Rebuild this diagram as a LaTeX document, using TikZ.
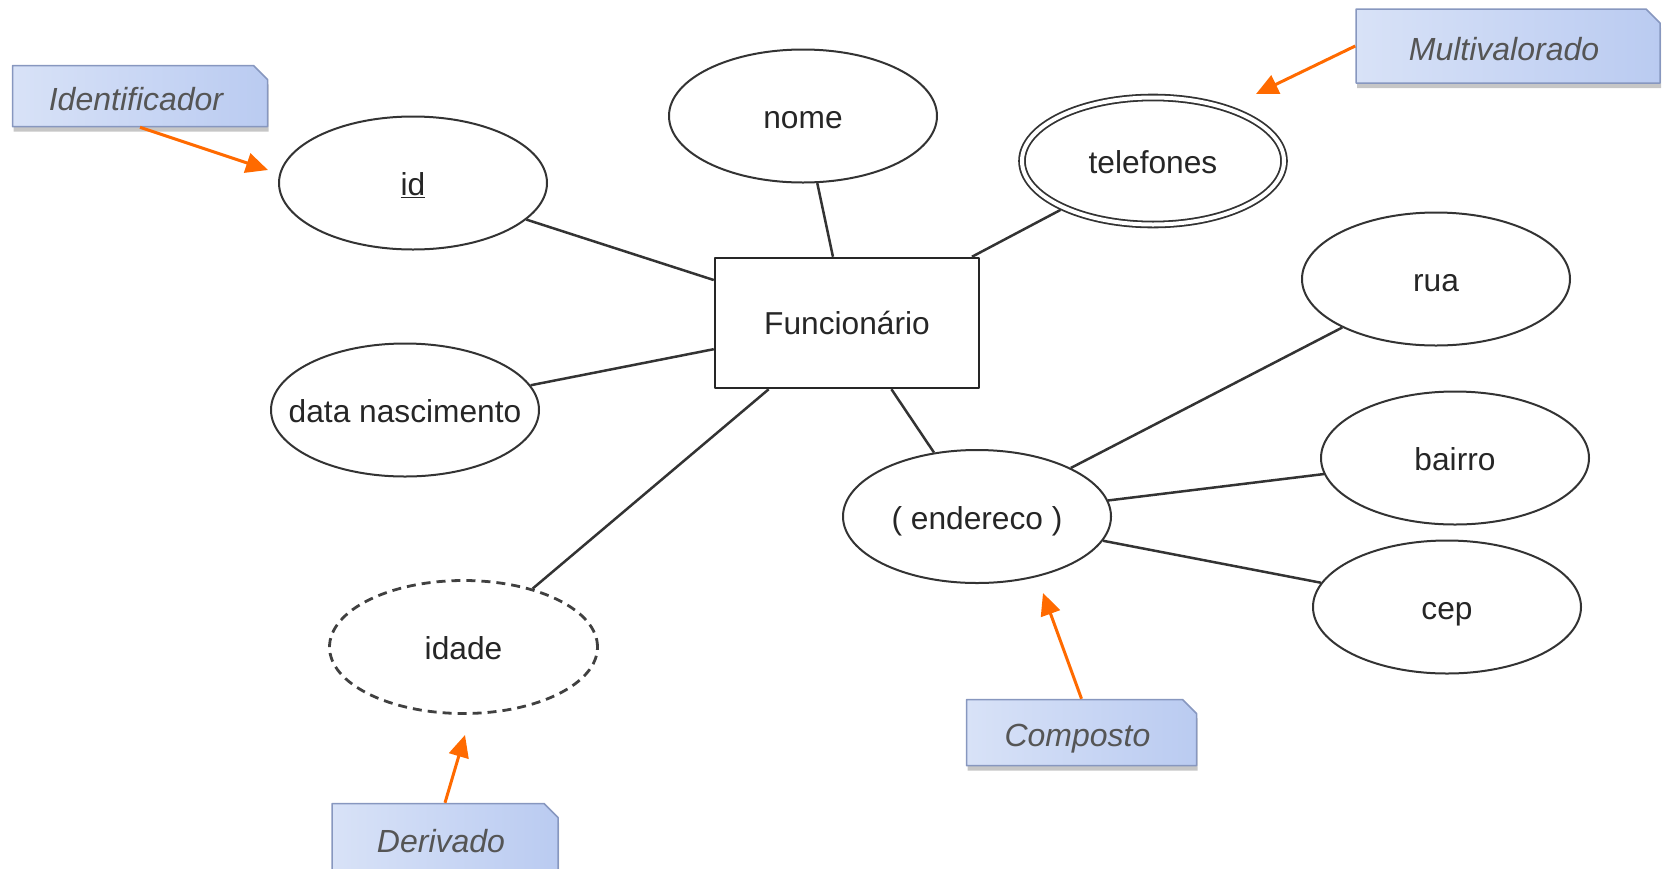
\documentclass[tikz,border=0pt]{standalone}
\usepackage{fontspec}
\setmainfont{Liberation Sans}
\usetikzlibrary{shapes.geometric,shapes.misc,arrows.meta,shadows}
\definecolor{linha}{HTML}{333333}
\definecolor{laranja}{HTML}{FF6A00}
\definecolor{notaL}{HTML}{D8E2F7}
\definecolor{notaM}{HTML}{D2DDF6}
\definecolor{notaR}{HTML}{BACBF1}
\definecolor{notaB}{HTML}{8797BF}
\definecolor{textonota}{HTML}{555555}
\begin{document}
\begin{tikzpicture}[x=1pt, y=-1pt, font=\fontsize{31.7}{38}\selectfont, line join=round,
    atrib/.style={ellipse, draw=linha, line width=2pt, minimum width=268pt, minimum height=133pt, inner xsep=-40pt, inner ysep=0pt, text height=25pt, text depth=0pt, text=black!85},
    entidade/.style={rectangle, draw=black!85, line width=2.5pt, minimum width=264pt, minimum height=130pt, text=black!85},
    nota/.style={chamfered rectangle, chamfered rectangle corners=north east, chamfered rectangle sep=7pt, inner sep=0pt, text height=28pt, text depth=0pt, draw=notaB, line width=1.5pt, left color=notaL, middle color=notaM, right color=notaR, text=textonota, font=\fontsize{32}{38}\selectfont\itshape, drop shadow={shadow xshift=1pt, shadow yshift=-5pt, opacity=.45}},
    seta/.style={draw=laranja, line width=3pt, -{Triangle[length=22pt,width=20pt]}},
    liga/.style={draw=linha, line width=2.5pt}]
    \useasboundingbox (0,0) rectangle (1663,868);
    \node[entidade] (func) at (847,323) {Funcionário};
    \node[atrib] (id) at (413,183) {\underline{id}};
    \node[atrib] (nome) at (803,116) {nome};
    \node[atrib, double, double distance=4pt, line width=1.8pt, minimum width=262pt, minimum height=127pt, outer sep=3.8pt] (tel) at (1153,161) {telefones};
    \node[atrib] (data) at (405,410) {data nascimento};
    \node[atrib, dash pattern=on 9pt off 6pt, line width=2.8pt, draw=black!75] (idade) at (463.5,647) {idade};
    \node[atrib] (end) at (977,516.5) {( endereco )};
    \node[atrib] (rua) at (1436,279) {rua};
    \node[atrib] (bairro) at (1455,458) {bairro};
    \node[atrib] (cep) at (1447,607) {cep};
    \foreach\a in{id,nome,tel,data,idade,end}{\draw[liga](\a)--(func);}
    \foreach\a in{rua,bairro,cep}{\draw[liga](end)--(\a);}
    \node[nota, minimum width=255pt, minimum height=61pt] (nIdent) at (140,96) {Identificador\hspace*{8pt}};
    \node[nota, minimum width=304pt, minimum height=74pt] (nMulti) at (1508,46) {Multivalorado\hspace*{8pt}};
    \node[nota, minimum width=226pt, minimum height=69pt] (nDeriv) at (445,838) {Derivado\hspace*{8pt}};
    \node[nota, minimum width=230pt, minimum height=66pt] (nComp) at (1081.5,732.5) {Composto\hspace*{8pt}};
    \coordinate (pIdent) at (268,170);
    \coordinate (pMulti) at (1256,94);
    \coordinate (pDeriv) at (465,735);
    \coordinate (pComp) at (1043,593);
    \draw[seta](nIdent.south)--(pIdent);
    \draw[seta](nMulti.west)--(pMulti);
    \draw[seta](nDeriv.north)--(pDeriv);
    \draw[seta](nComp.north)--(pComp);
\end{tikzpicture}
\end{document}
